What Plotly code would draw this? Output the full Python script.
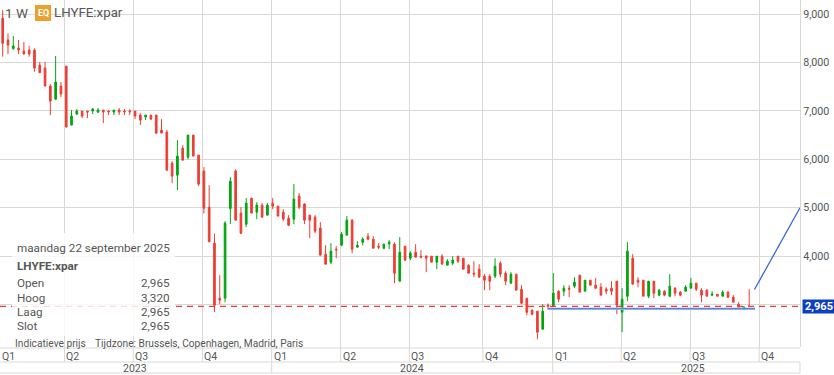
import plotly.graph_objects as go

opens = [8910,8463,8290,8297,8235,8256,8256,7946,7884,7512,7243,7512,7925,6706,6934,6996,6996,6996,6975,7016,
6996,6975,7016,6996,6996,6996,6913,6872,6913,6913,6603,6562,5921,5673,6231,6045,6500,6087,5756,5012,
4269,3132,3132,4985,5756,4889,4661,5198,4909,5054,4847,5095,5033,4909,4785,4765,5240,5075,4847,4806,
4579,4041,3876,4145,4227,4434,4744,4186,4289,4413,4351,4207,4165,4255,4248,3484,4207,3959,4083,4000,
4000,4000,3876,4000,3814,3856,4000,3959,3814,3649,3732,3587,3587,3587,3856,3649,3442,3628,3318,3132,
2885,2864,2492,2988,2967,3277,3277,3339,3381,3608,3277,3504,3401,3360,3319,3339,3484,2843,3174,3959,
3504,3504,3174,3484,3195,3277,3174,3339,3257,3277,3339,3443,3298,3298,3195,3215,3174,3257,3153,3009,
2926,2965]
highs = [9082,8600,8545,8463,8421,8339,8290,8008,8008,7553,8132,7595,7925,7016,7037,6996,6996,7058,7058,7016,
7016,7016,7058,7037,7037,6996,6954,6913,6913,6913,6830,6603,5963,6396,6293,6500,6500,6087,5839,5467,
4468,3608,4723,5632,5797,5012,5198,5198,5116,5095,5095,5198,5033,4971,4847,5488,5302,5095,4847,4847,
4703,4227,4269,4207,4496,4827,4765,4310,4393,4475,4413,4269,4248,4331,4289,4393,4207,4103,4248,4124,
4021,4000,4000,4041,3938,4000,4000,3959,3835,3897,3835,3628,3628,3959,3897,3690,3670,3628,3401,3132,
2905,2864,3008,3022,3649,3298,3401,3401,3566,3608,3504,3504,3546,3443,3360,3484,3484,3339,4290,4042,
3566,3504,3484,3484,3319,3298,3628,3360,3277,3401,3546,3443,3339,3319,3277,3215,3298,3277,3195,3050,
2967,3320]
lows = [8118,8173,8256,8173,8173,8118,7808,7788,7512,6913,7223,7285,6665,6706,6913,6851,6851,6934,6954,6748,
6913,6913,6913,6913,6913,6830,6706,6810,6810,6520,6541,5756,5508,5363,5983,6004,6066,5446,4881,4296,
2843,3008,3050,4661,4744,4455,4599,4889,4765,4806,4847,4971,4827,4723,4620,4661,4971,4661,4372,4475,
4021,3835,3835,3959,4207,4434,4062,4186,4227,4331,4165,4145,4145,4145,3442,3484,3897,3918,3979,3959,
3670,3876,3732,3835,3814,3814,3856,3732,3649,3566,3566,3298,3298,3546,3566,3401,3442,3298,3008,2781,
2781,2285,2492,2898,2967,3050,3174,3153,3339,3257,3277,3401,3319,3195,3215,3195,2802,2430,3071,3422,
3360,3174,3133,3133,3174,3174,3153,3174,3174,3277,3339,3277,3050,3174,3174,3174,3174,3133,3050,2947,
2885,2965]
closes = [8394,8359,8339,8256,8173,8173,7884,7788,7512,7202,7595,7347,6665,6892,6996,6892,6975,7037,7016,6975,
6982,7016,6975,6982,6982,6892,6810,6913,6830,6541,6541,5777,5653,6066,5983,6500,6066,5487,4991,4296,
2988,3091,4682,5549,4744,4475,5095,4889,5054,4806,5054,5033,4827,4765,4641,5178,5012,4744,4744,4517,
4021,3835,4103,4131,4455,4744,4145,4227,4351,4351,4165,4186,4248,4289,3649,4083,3918,4062,3979,3979,
3959,3876,4000,3835,3897,3918,3897,3732,3649,3628,3566,3504,3484,3793,3628,3484,3628,3298,3029,2843,
2802,2430,2864,2967,3236,3112,3339,3319,3463,3257,3504,3401,3339,3195,3277,3277,2988,3112,4104,3422,
3463,3174,3484,3236,3298,3195,3381,3236,3195,3360,3443,3319,3195,3174,3215,3174,3257,3153,3050,2947,
2947,2964]

y_ticks = [3000,4000,5000,6000,7000,8000,9000]
y_labels = ["","4,000","5,000","6,000","7,000","8,000","9,000"]
q_pos = [-0.51,11.67,24.66,37.73,50.8,63.83,76.8,90.7,103.87,116.83,129.86,142.9]
q_labels = ["Q1","Q2","Q3","Q4","Q1","Q2","Q3","Q4","Q1","Q2","Q3","Q4"]
years = ["2023","2024","2025"]
year_centers = [135,411.5,693]
year_seps = [271.7,552.7,800]
last_price = 2965
support_x = [103,142.1]
support_y = [2915,2915]
trend_x = [142,150.6]
trend_y = [3312,5000]
info_rows = [("Open","2,965"),("Hoog","3,320"),("Laag","2,965"),("Slot","2,965")]
FONT = "Roboto, sans-serif"
W, H = 800, 347
GRID = "#d8d8d8"
TXT = "#555555"

def px(v): return v / W
def py(v): return 1 - v / H

fig = go.Figure()
fig.add_trace(go.Candlestick(x=list(range(len(opens))), open=opens, high=highs, low=lows, close=closes,
    increasing=dict(line=dict(color="#00a510", width=1), fillcolor="#00a510"),
    decreasing=dict(line=dict(color="#ee3e33", width=1), fillcolor="#ee3e33"),
    whiskerwidth=0, hoverinfo="skip", showlegend=False))
fig.add_trace(go.Scatter(x=support_x, y=support_y, mode="lines", line=dict(color="#a8c0f0", width=2.6), showlegend=False, hoverinfo="skip"))
fig.add_trace(go.Scatter(x=support_x, y=support_y, mode="lines", line=dict(color="#3f72da", width=1), showlegend=False, hoverinfo="skip"))
fig.add_trace(go.Scatter(x=trend_x, y=trend_y, mode="lines", line=dict(color="#3568d4", width=1.3), showlegend=False, hoverinfo="skip", cliponaxis=False))

shapes = [dict(type="line", xref="x", yref="y", x0=-0.51, x1=150.6, y0=last_price, y1=last_price,
               line=dict(color="#ee3e33", width=1.2, dash="6px,5px"))]
shapes.append(dict(type="rect", xref="paper", yref="paper", x0=px(12), x1=px(175), y0=py(336), y1=py(233),
                   fillcolor="rgba(255,255,255,0.82)", line=dict(width=0), layer="above"))
for p in q_pos[1:]:
    shapes.append(dict(type="line", xref="x", yref="paper", x0=p, x1=p, y0=py(362), y1=0, line=dict(color=GRID, width=1), layer="below"))
for v in [348, 362, 373]:
    shapes.append(dict(type="line", xref="paper", yref="paper", x0=0, x1=1, y0=py(v), y1=py(v), line=dict(color=GRID, width=1)))
for v in year_seps:
    shapes.append(dict(type="line", xref="paper", yref="paper", x0=px(v), x1=px(v), y0=py(373), y1=py(362), line=dict(color=GRID, width=1)))
shapes.append(dict(type="rect", xref="paper", yref="paper", x0=px(35), x1=px(51), y0=py(21), y1=py(5), fillcolor="#e9a22f", line=dict(width=0)))

def text(x, y, t, size=12, color=TXT, anchor="left"):
    return dict(xref="paper", yref="paper", x=px(x), y=py(y), text=t, showarrow=False, xanchor=anchor, yanchor="middle",
                font=dict(family=FONT, size=size, color=color), xshift=0, yshift=0, borderpad=0)

ann = [text(4, 13, "1 W", 13.5), text(43, 13, "<b>EQ</b>", 9, "#ffffff", "center"), text(53, 13, "LHYFE:xpar", 13.3)]
ann.append(text(16, 247.5, "maandag 22 september 2025", 11.7))
ann.append(text(16, 266, "<b>LHYFE:xpar</b>", 11.7))
for (lab, val), y in zip(info_rows, [283, 297.5, 311.5, 326]):
    ann.append(text(16, y, lab, 11.7))
    ann.append(text(171, y, val, 11.7, TXT, "right"))
ann.append(text(14, 343, "Indicatieve prijs", 10.2))
ann.append(text(94, 343, "Tijdzone: Brussels, Copenhagen, Madrid, Paris", 10.2))
for p, lab in zip(q_pos, q_labels):
    ann.append(dict(xref="x", yref="paper", x=p, y=py(356), text=lab, showarrow=False, xanchor="left", yanchor="middle", xshift=0,
                    font=dict(family=FONT, size=10.5, color=TXT)))
for c, lab in zip(year_centers, years):
    ann.append(text(c, 368.5, lab, 10.5, TXT, "center"))
ann.append(dict(xref="paper", yref="y", x=1, y=last_price, xshift=2, text="<b>2,965</b>", showarrow=False, xanchor="left", yanchor="middle",
                bgcolor="#0b3fc4", font=dict(family=FONT, size=11, color="#ffffff"), borderpad=0, width=32, height=13))

fig.update_layout(width=834, height=375, margin=dict(l=0, r=34, t=0, b=28), paper_bgcolor="white", plot_bgcolor="white",
    boxgap=0.55, shapes=shapes, annotations=ann, showlegend=False,
    xaxis=dict(range=[-0.51,150.6], tickvals=q_pos, showticklabels=False, showgrid=True, gridcolor=GRID, gridwidth=1, zeroline=False,
               rangeslider=dict(visible=False), ticks="", showline=False),
    yaxis=dict(range=[2125,9289], side="right", tickvals=y_ticks, ticktext=y_labels, showgrid=True, gridcolor=GRID, gridwidth=1,
               zeroline=False, showline=True, linecolor=GRID, linewidth=1, ticks="", tickfont=dict(family=FONT, size=10.7, color=TXT)))
fig.write_html("out.html", config=dict(displayModeBar=False),
               post_script="document.body.style.margin='0';document.documentElement.style.overflow='hidden';")
